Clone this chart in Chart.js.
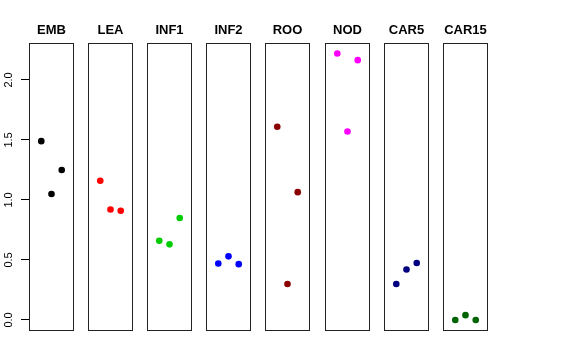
<!DOCTYPE html>
<html>
<head>
<meta charset="utf-8">
<script src="https://cdn.jsdelivr.net/npm/chart.js@4.4.1/dist/chart.umd.min.js"></script>
<style>
  body { margin: 0; background: #fff; }
  #wrap { position: relative; width: 576px; height: 360px; }
  .panel { position: absolute; top: 0; height: 345px; }
</style>
</head>
<body>
<div id="wrap"></div>
<script>
// groups shown left to right, one panel each
const groups = ['EMB', 'LEA', 'INF1', 'INF2', 'ROO', 'NOD', 'CAR5', 'CAR15'];
const colors = ['#000000', '#ff0000', '#00cd00', '#0000ff', '#8b0000', '#ff00ff', '#000080', '#006400'];
const reps = [1, 2, 3];

// values, three replicates per group
const emb = [1.49, 1.05, 1.25];
const lea = [1.16, 0.92, 0.91];
const inf1 = [0.66, 0.63, 0.85];
const inf2 = [0.47, 0.53, 0.465];
const roo = [1.61, 0.30, 1.065];
const nod = [2.22, 1.57, 2.165];
const car5 = [0.30, 0.42, 0.475];
const car15 = [0.0, 0.04, 0.0];
const values = [emb, lea, inf1, inf2, roo, nod, car5, car15];

const yTicks = [0, 0.5, 1, 1.5, 2];
const yLabels = ['0.0', '0.5', '1.0', '1.5', '2.0'];

const yMin = -0.092, yMax = 2.308;

// box around each panel's plotting area
const boxPlugin = {
    id: 'box',
    afterDraw(chart) {
        const a = chart.chartArea;
        const ctx = chart.ctx;
        ctx.save();
        ctx.strokeStyle = '#222';
        ctx.lineWidth = 1;
        ctx.strokeRect(Math.round(a.left) + 0.5, Math.round(a.top) + 0.5,
            Math.round(a.right - a.left) - 1, Math.round(a.bottom - a.top) - 1);
        ctx.restore();
    }
};

const wrap = document.getElementById('wrap');

function addCanvas(left, width) {
    const div = document.createElement('div');
    div.className = 'panel';
    div.style.left = left + 'px';
    div.style.width = width + 'px';
    const canvas = document.createElement('canvas');
    div.appendChild(canvas);
    wrap.appendChild(div);
    return canvas;
}

// shared settings so the axis canvas and the panels line up vertically
function baseOptions(title, showY) {
    return {
        responsive: true,
        maintainAspectRatio: false,
        animation: false,
        layout: { autoPadding: false, padding: { top: 0, bottom: 14, left: 0, right: 0 } },
        plugins: {
            legend: { display: false },
            tooltip: { enabled: false },
            title: {
                display: true,
                text: title,
                color: '#000',
                font: { family: 'Liberation Sans', size: 13, weight: 'bold' },
                padding: { top: 23, bottom: 4.4 }
            }
        },
        scales: {
            x: { type: 'linear', min: -0.2, max: 4.2, display: false },
            y: {
                type: 'linear',
                min: yMin,
                max: yMax,
                display: showY,
                afterBuildTicks: s => { s.ticks = yTicks.map(v => ({ value: v })); },
                afterFit: s => { if (showY) s.width = 29; },
                border: { display: false },
                grid: { drawOnChartArea: false, drawTicks: true, tickLength: 8, color: '#000' },
                ticks: {
                    minRotation: 90,
                    maxRotation: 90,
                    crossAlign: 'center',
                    padding: 4,
                    color: '#000',
                    font: { family: 'Liberation Sans', size: 11 },
                    callback: (v, k) => yLabels[k]
                }
            }
        }
    };
}

// y axis on its own canvas, left of the first panel
new Chart(addCanvas(0, 74), {
    type: 'scatter',
    data: { datasets: [{ data: [] }] },
    options: baseOptions('', true)
});

groups.forEach((g, i) => {
    const left = Math.round(29 + i * 59.1);
    new Chart(addCanvas(left, 45), {
        type: 'scatter',
        data: {
            datasets: [{
                data: reps.map((r, k) => ({ x: r, y: values[i][k] })),
                backgroundColor: colors[i],
                borderWidth: 0,
                pointRadius: 3.3
            }]
        },
        options: baseOptions(g, false),
        plugins: [boxPlugin]
    });
});
</script>
</body>
</html>
